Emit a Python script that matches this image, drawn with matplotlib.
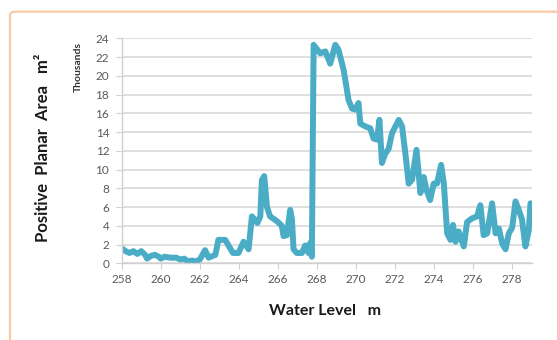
import numpy as np
import matplotlib
matplotlib.use("Agg")
import matplotlib.pyplot as plt
from matplotlib.patches import FancyBboxPatch

# water level (m) vs positive planar area (thousands m2)
level = [258.0, 258.2, 258.4, 258.6, 258.8, 259.0, 259.2, 259.3, 259.5, 259.7,
         259.9, 260.0, 260.2, 260.5, 260.8, 261.0, 261.2, 261.4, 261.6, 261.8,
         262.0, 262.27, 262.45, 262.8, 262.95, 263.3, 263.7, 263.98, 264.24, 264.5,
         264.67, 264.84, 264.95, 265.1, 265.18, 265.3, 265.44, 265.6, 265.95, 266.2,
         266.29, 266.46, 266.63, 266.72, 266.8, 266.97, 267.23, 267.4, 267.57, 267.66,
         267.74, 267.83, 268.17, 268.43, 268.68, 268.94, 269.1, 269.37, 269.62, 269.8,
         269.96, 270.13, 270.22, 270.48, 270.73, 270.9, 271.08, 271.2, 271.33, 271.5,
         271.67, 271.85, 272.19, 272.36, 272.53, 272.7, 272.87, 273.1, 273.3, 273.47,
         273.6, 273.8, 273.98, 274.15, 274.36, 274.5, 274.67, 274.84, 274.97, 275.1,
         275.26, 275.52, 275.69, 275.95, 276.2, 276.37, 276.54, 276.72, 276.97, 277.15,
         277.32, 277.49, 277.66, 277.83, 278.0, 278.17, 278.34, 278.5, 278.68, 278.85,
         278.94]
area = [1.6, 1.3, 1.1, 1.3, 1.0, 1.3, 0.9, 0.5, 0.8, 0.9,
        0.7, 0.5, 0.7, 0.6, 0.6, 0.4, 0.5, 0.2, 0.3, 0.2,
        0.4, 1.4, 0.6, 0.9, 2.5, 2.5, 1.1, 1.1, 2.3, 1.5,
        5.0, 4.6, 4.3, 5.0, 8.9, 9.3, 6.0, 5.0, 4.5, 4.0,
        2.9, 3.0, 5.7, 4.7, 1.5, 1.1, 1.1, 1.9, 1.1, 2.2,
        0.7, 23.3, 22.4, 22.6, 21.3, 23.3, 22.8, 20.6, 17.4, 16.5,
        16.4, 17.1, 14.9, 14.6, 14.4, 13.3, 13.2, 15.3, 10.7, 11.7,
        12.2, 13.9, 15.3, 14.6, 11.7, 8.5, 8.9, 12.1, 7.5, 9.2,
        7.9, 6.75, 8.5, 8.5, 10.5, 8.5, 3.2, 2.5, 4.1, 2.3,
        3.4, 1.8, 4.4, 4.8, 5.0, 6.2, 3.0, 3.2, 6.4, 3.2,
        3.7, 2.1, 1.5, 3.2, 3.8, 6.6, 5.7, 4.7, 1.8, 3.5,
        6.4]
xticks = list(range(258, 279, 2))
yticks = list(range(0, 25, 2))

plt.rcParams["font.family"] = ["Lato", "DejaVu Sans"]
fig = plt.figure(figsize=(5.57, 3.40), dpi=100)
fig.patches.append(FancyBboxPatch((10 / 557, -0.2), 1.2, 1 - 11.7 / 340 + 0.2,
                                  boxstyle="round,pad=0,rounding_size=0.01",
                                  transform=fig.transFigure, fill=False,
                                  ec="#F9C9A4", lw=1.6, figure=fig))

ax = fig.add_axes([121.7 / 557, 1 - 263.3 / 340, 410 / 557, 225 / 340])
ax.plot(level, area, color="#4BACC6", lw=4.3, solid_joinstyle="round", solid_capstyle="round")
ax.set_xlim(258, 279)
ax.set_ylim(0, 24)
ax.set_xticks(xticks)
ax.set_yticks(yticks)
ax.grid(axis="y", color="#D9D9D9", lw=1.2)
ax.set_axisbelow(True)
for s in ["top", "right"]:
    ax.spines[s].set_visible(False)
for s in ["left", "bottom"]:
    ax.spines[s].set_color("#D0D0D0")
    ax.spines[s].set_linewidth(1.0)
ax.tick_params(colors="#D0D0D0", labelcolor="#595959", labelsize=8.5, length=4)
ax.tick_params(axis="y", pad=5)

fig.text(43 / 557, 1 - 148 / 340, "Positive  Planar  Area   m²", rotation=90,
         ha="center", va="center", fontsize=12, fontweight="bold", color="#1a1a1a")
fig.text(78 / 557, 1 - 67 / 340, "Thousands", rotation=90, ha="center", va="center",
         fontsize=7.5, fontweight="bold", color="#333333")
fig.text(325 / 557, 1 - 311 / 340, "Water Level   m", ha="center", va="center",
         fontsize=11.5, fontweight="bold", color="#1a1a1a")

fig.savefig("out.png", dpi=100)
